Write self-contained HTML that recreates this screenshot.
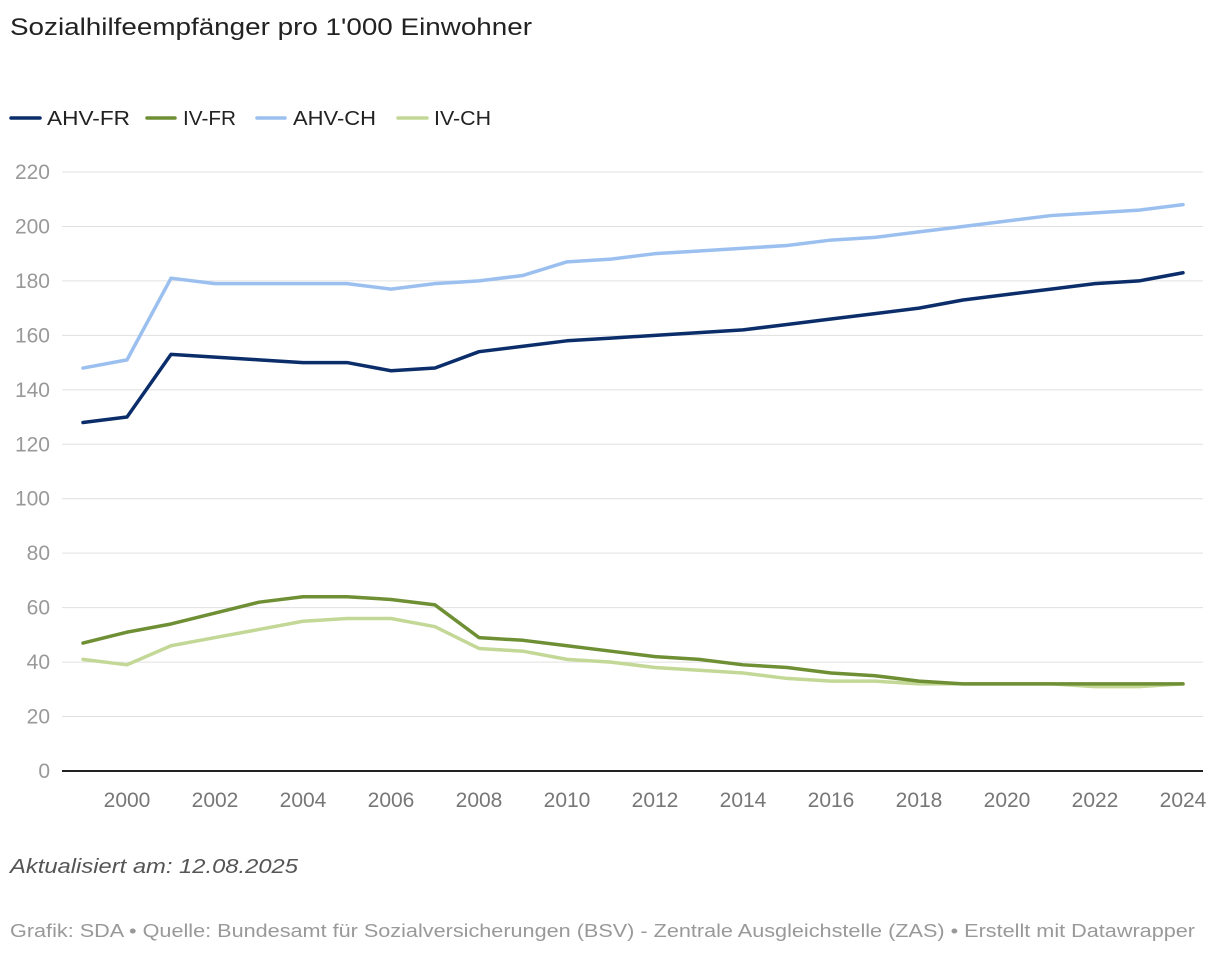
<!DOCTYPE html>
<html><head><meta charset="utf-8"><style>
html,body{margin:0;padding:0;background:#fff;}
svg{display:block;font-family:"Liberation Sans",sans-serif;}
</style></head><body>
<svg id="chart" width="1220" height="954" viewBox="0 0 1220 954">
<text x="10" y="35" font-size="24" fill="#222" textLength="522" lengthAdjust="spacingAndGlyphs">Sozialhilfeempfänger pro 1'000 Einwohner</text>
<g>
<g><line x1="11" y1="118" x2="40" y2="118" stroke="#0b2e6b" stroke-width="3.5" stroke-linecap="round"/><text x="47" y="125" font-size="20" fill="#222" textLength="83" lengthAdjust="spacingAndGlyphs">AHV-FR</text></g>
<g><line x1="147" y1="118" x2="175" y2="118" stroke="#6f8f35" stroke-width="3.5" stroke-linecap="round"/><text x="183" y="125" font-size="20" fill="#222" textLength="53" lengthAdjust="spacingAndGlyphs">IV-FR</text></g>
<g><line x1="257" y1="118" x2="285" y2="118" stroke="#9bc0ef" stroke-width="3.5" stroke-linecap="round"/><text x="293" y="125" font-size="20" fill="#222" textLength="83" lengthAdjust="spacingAndGlyphs">AHV-CH</text></g>
<g><line x1="398" y1="118" x2="427" y2="118" stroke="#c3d896" stroke-width="3.5" stroke-linecap="round"/><text x="434" y="125" font-size="20" fill="#222" textLength="57" lengthAdjust="spacingAndGlyphs">IV-CH</text></g>
</g>
<g id="grid"></g>
<g id="series"></g>
<text x="10" y="873" font-size="20" font-style="italic" fill="#555" textLength="288" lengthAdjust="spacingAndGlyphs">Aktualisiert am: 12.08.2025</text>
<text x="10" y="937" font-size="18" fill="#999" textLength="1185" lengthAdjust="spacingAndGlyphs">Grafik: SDA • Quelle: Bundesamt für Sozialversicherungen (BSV) - Zentrale Ausgleichstelle (ZAS) • Erstellt mit Datawrapper</text>
</svg>
<script>
const years=[1999,2000,2001,2002,2003,2004,2005,2006,2007,2008,2009,2010,2011,2012,2013,2014,2015,2016,2017,2018,2019,2020,2021,2022,2023,2024];
const ahvFR=[128,130,153,152,151,150,150,147,148,154,156,158,159,160,161,162,164,166,168,170,173,175,177,179,180,183];
const ivFR=[47,51,54,58,62,64,64,63,61,49,48,46,44,42,41,39,38,36,35,33,32,32,32,32,32,32];
const ahvCH=[148,151,181,179,179,179,179,177,179,180,182,187,188,190,191,192,193,195,196,198,200,202,204,205,206,208];
const ivCH=[41,39,46,49,52,55,56,56,53,45,44,41,40,38,37,36,34,33,33,32,32,32,32,31,31,32];
const yTicks=[0,20,40,60,80,100,120,140,160,180,200,220];
const xTicks=[2000,2002,2004,2006,2008,2010,2012,2014,2016,2018,2020,2022,2024];
const NS="http://www.w3.org/2000/svg";
const xs=y=>83+(y-1999)*44;
const ys=v=>771-v*(599/220);
const grid=document.getElementById('grid'),series=document.getElementById('series');
function mk(t,a){const e=document.createElementNS(NS,t);for(const k in a)e.setAttribute(k,a[k]);return e;}
yTicks.forEach(v=>{
 if(v>0){const l=mk('line',{x1:62,x2:1203,y1:ys(v),y2:ys(v),stroke:'#e0e0e0','stroke-width':1});
 
 
 grid.appendChild(l);}
 const t=mk('text',{x:50,y:ys(v)+7,'font-size':21,fill:'#999','text-anchor':'end'});
 t.textContent=v;
 
 
 grid.appendChild(t);
});
xTicks.forEach(y=>{
 const t=mk('text',{x:xs(y),y:807,'font-size':21,fill:'#777','text-anchor':'middle'});
 t.textContent=y;
 
 
 grid.appendChild(t);
});
const ax=mk('line',{x1:62,x2:1203,y1:771,y2:771,stroke:'#222','stroke-width':2});


grid.appendChild(ax);
[[ivCH,'#c3d896','line-iv-ch'],[ivFR,'#6f8f35','line-iv-fr'],[ahvCH,'#9bc0ef','line-ahv-ch'],[ahvFR,'#0b2e6b','line-ahv-fr']].forEach(([d,c,n])=>{
 const p=mk('polyline',{points:d.map((v,i)=>xs(years[i])+','+ys(v)).join(' '),fill:'none',stroke:c,'stroke-width':3.5,'stroke-linejoin':'round','stroke-linecap':'round'});
 
 
 series.appendChild(p);
});
</script>
</body></html>
